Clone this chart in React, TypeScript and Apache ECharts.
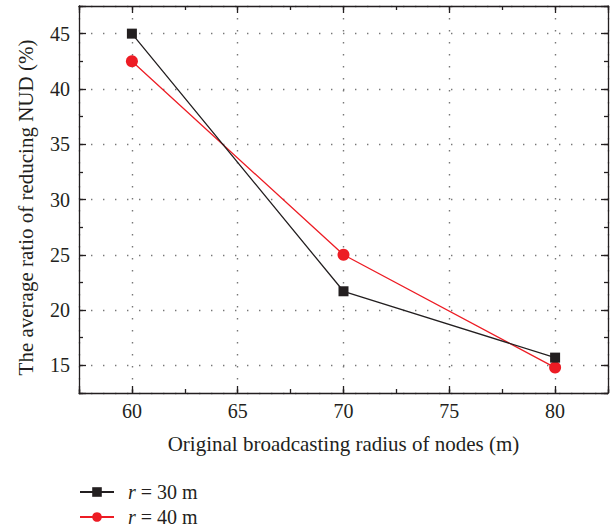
import React, { useEffect, useRef } from "react";
import * as echarts from "echarts";

const radii = [60, 70, 80];
const series30 = [45, 21.7, 15.7];
const series40 = [42.5, 25, 14.8];
const seriesNames = ["r = 30 m", "r = 40 m"];
const xName = "Original broadcasting radius of nodes (m)";
const yName = "The average ratio of reducing NUD (%)";

const FONT = "'Liberation Serif', 'DejaVu Serif', serif";
const INK = "#231f20";
const RED = "#ed1c24";

export default function App() {
  const ref = useRef<HTMLDivElement>(null);
  useEffect(() => {
    if (!ref.current) return;
    const chart = echarts.init(ref.current, undefined, { renderer: "svg" });
    const gridPos = { left: 79, right: 8, top: 6, bottom: 135 };
    const xRange = { min: 57.5, max: 82.5 };
    const yRange = { min: 12.5, max: 47.5 };
    const hide5 = (v: number) => (Math.abs(v % 5) < 1e-6 ? String(v) : "");
    const lineStyle = { color: INK, width: 1.3 };
    const majorAxisBase = {
      type: "value" as const,
      axisLine: { show: true, onZero: false, lineStyle },
      axisTick: { show: true, inside: true, length: 7, lineStyle },
      splitLine: { show: false },
    };
    const minorAxisBase = {
      type: "value" as const,
      gridIndex: 1,
      interval: 2.5,
      axisLine: { show: false },
      axisTick: { show: true, inside: true, length: 4, lineStyle },
      axisLabel: { show: false },
      splitLine: { show: false },
    };
    const dotted = {
      show: true,
      lineStyle: { color: "#777", width: 1.4, type: [1.4, 10.6] as any },
    };
    chart.setOption({
      animation: false,
      backgroundColor: "#fff",
      grid: [{ ...gridPos }, { ...gridPos }],
      xAxis: [
        {
          ...majorAxisBase,
          ...xRange,
          splitNumber: 5,
          position: "bottom",
          name: xName,
          nameLocation: "middle",
          nameGap: 40,
          nameTextStyle: { fontFamily: FONT, fontSize: 21, color: INK },
          axisLabel: {
            formatter: hide5,
            margin: 8,
            fontFamily: FONT,
            fontSize: 20,
            color: INK,
          },
          splitLine: dotted,
        },
        {
          ...majorAxisBase,
          ...xRange,
          splitNumber: 5,
          position: "top",
          axisLabel: { show: false },
        },
        { ...minorAxisBase, ...xRange, position: "bottom" },
        { ...minorAxisBase, ...xRange, position: "top" },
      ],
      yAxis: [
        {
          ...majorAxisBase,
          ...yRange,
          splitNumber: 7,
          position: "left",
          name: yName,
          nameLocation: "middle",
          nameGap: 43,
          nameTextStyle: {
            fontFamily: FONT,
            fontSize: 21,
            color: INK,
            padding: [0, 16, 0, 0],
          },
          axisLabel: {
            formatter: hide5,
            margin: 9,
            fontFamily: FONT,
            fontSize: 20,
            color: INK,
          },
          splitLine: dotted,
        },
        {
          ...majorAxisBase,
          ...yRange,
          splitNumber: 7,
          position: "right",
          axisLabel: { show: false },
        },
        { ...minorAxisBase, ...yRange, position: "left" },
        { ...minorAxisBase, ...yRange, position: "right" },
      ],
      legend: {
        orient: "vertical",
        left: 79,
        top: 482,
        height: 46,
        padding: 0,
        itemWidth: 34,
        itemHeight: 12,
        itemGap: 5,
        data: seriesNames,
        formatter: (name: string) => "{g| }" + name.replace(/^r/, "{i|r}"),
        textStyle: {
          fontFamily: FONT,
          fontSize: 20,
          lineHeight: 18,
          color: INK,
          rich: {
            g: { width: 9, fontSize: 20, lineHeight: 18 },
            i: {
              fontFamily: FONT,
              fontSize: 20,
              lineHeight: 18,
              fontStyle: "italic",
              color: INK,
            },
          },
        },
      },
      series: [
        {
          name: seriesNames[0],
          type: "line",
          data: radii.map((x, i) => [x, series30[i]]),
          symbol: "rect",
          symbolSize: 10,
          itemStyle: { color: INK },
          lineStyle: { color: INK, width: 1.3 },
          z: 3,
        },
        {
          name: seriesNames[1],
          type: "line",
          data: radii.map((x, i) => [x, series40[i]]),
          symbol: "circle",
          symbolSize: 12,
          itemStyle: { color: RED },
          lineStyle: { color: RED, width: 1.3 },
          z: 2,
        },
      ],
    });
    return () => chart.dispose();
  }, []);
  return (
    <div
      ref={ref}
      style={{ position: "fixed", left: 0, top: 0, width: 616, height: 528 }}
    />
  );
}
